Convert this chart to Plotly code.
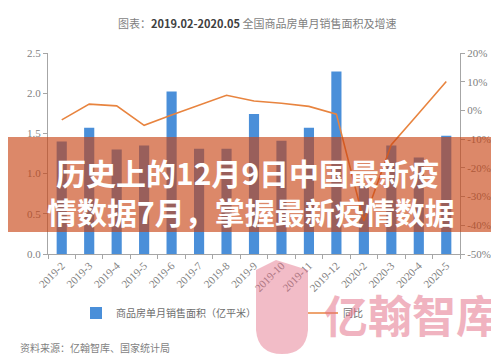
import plotly.graph_objects as go

categories = ["2019-2", "2019-3", "2019-4", "2019-5", "2019-6", "2019-7", "2019-8",
              "2019-9", "2019-10", "2019-11", "2019-12", "2020-2", "2020-3", "2020-4", "2020-5"]
sales_area = [1.40, 1.57, 1.30, 1.35, 2.02, 1.31, 1.31, 1.74, 1.41, 1.57, 2.27, 0.85, 1.35, 1.20, 1.47]
yoy_pct = [-3.3, 2.2, 1.6, -5.2, -1.6, 1.8, 5.3, 3.3, 2.5, 1.4, -1.3, -38.5, -11.9, -1.0, 10.1]

left_ticks = [0.0, 0.5, 1.0, 1.5, 2.0, 2.5]
left_labels = ["0.0", "0.5", "1.0", "1.5", "2.0", "2.5"]
right_ticks = [-50, -40, -30, -20, -10, 0, 10, 20]
right_labels = ["-50%", "-40%", "-30%", "-20%", "-10%", "0%", "10%", "20%"]

bar_name = "商品房单月销售面积（亿平米）"
line_name = "同比"
title_html = ("<span style='color:#7f7f7f'>图表：</span><b>2019.02-2020.05</b>"
              "<span style='color:#7f7f7f'> 全国商品房单月销售面积及增速</span>")
banner_line1 = "历史上的12月9日中国最新疫"
banner_line2 = "情数据7月，掌握最新疫情数据"
source_text = "资料来源：亿翰智库、国家统计局"
watermark_text = "亿翰智库"

CJK = "Noto Sans CJK SC"
SERIF = "Liberation Serif"

W, H = 499, 355
L, R, T, B = 40, 47, 45, 109
pw, ph = W - L - R, H - T - B

def px_x(x):
    return (x - L) / pw

def px_y(y):
    return (H - B - y) / ph

fig = go.Figure()
fig.add_trace(go.Bar(x=categories, y=sales_area, name=bar_name, legend="legend",
                     marker=dict(color="#4a8fd9", line=dict(width=0)), yaxis="y"))
fig.add_trace(go.Scatter(x=categories, y=yoy_pct, name=line_name, mode="lines", legend="legend2",
                         line=dict(color="#e8843f", width=1.6), yaxis="y2"))

legend_font = dict(family=CJK, size=10, color="#6e6e6e")
fig.update_layout(
    width=W, height=H,
    margin=dict(l=L, r=R, t=T, b=B),
    paper_bgcolor="white", plot_bgcolor="white",
    bargap=0.63,
    showlegend=True,
    legend=dict(orientation="h", x=px_x(68), xanchor="left", y=px_y(305), yanchor="middle",
                font=legend_font, bgcolor="rgba(0,0,0,0)", itemwidth=30),
    legend2=dict(orientation="h", x=px_x(295), xanchor="left", y=px_y(305), yanchor="middle",
                 font=legend_font, bgcolor="rgba(0,0,0,0)", itemwidth=30),
    xaxis=dict(type="category", showline=True, linecolor="#a6a6a6", linewidth=1,
               ticks="outside", ticklen=4, tickcolor="#a6a6a6", tickson="boundaries",
               tickangle=-45, tickfont=dict(family=SERIF, size=11, color="#7f7f7f"),
               showgrid=False, zeroline=False),
    yaxis=dict(range=[0, 2.5], tickvals=left_ticks, ticktext=left_labels,
               showline=True, linecolor="#a6a6a6", linewidth=1, ticks="outside",
               ticklen=4, tickcolor="#a6a6a6", showgrid=False, zeroline=False,
               tickfont=dict(family=SERIF, size=11, color="#7f7f7f")),
    yaxis2=dict(range=[-50, 20], tickvals=right_ticks, ticktext=right_labels,
                overlaying="y", side="right", showline=True, linecolor="#a6a6a6",
                linewidth=1, ticks="outside", ticklen=4, tickcolor="#a6a6a6",
                showgrid=False, zeroline=False,
                tickfont=dict(family=SERIF, size=11, color="#7f7f7f")),
)

annotations = [
    dict(text=title_html, x=px_x(249), y=px_y(15), xref="paper", yref="paper",
         showarrow=False, xanchor="center", yanchor="middle",
         font=dict(family=CJK, size=11, color="#404040")),
    dict(text=source_text, x=px_x(10), y=px_y(339), xref="paper", yref="paper",
         showarrow=False, xanchor="left", yanchor="middle",
         font=dict(family=CJK, size=10, color="#7f7f7f")),
    dict(text=watermark_text, x=px_x(494), y=px_y(306), xref="paper", yref="paper",
         showarrow=False, xanchor="right", yanchor="middle", opacity=0.5,
         font=dict(family=CJK, size=44, color="#e36a82", weight="bold")),
    dict(text=banner_line1, x=px_x(46), y=px_y(164), xref="paper", yref="paper",
         showarrow=False, xanchor="left", yanchor="middle",
         font=dict(family=CJK, size=30, color="white", weight="bold")),
    dict(text=banner_line2, x=px_x(37), y=px_y(203), xref="paper", yref="paper",
         showarrow=False, xanchor="left", yanchor="middle",
         font=dict(family=CJK, size=30, color="white", weight="bold")),
]

shapes = [
    dict(type="rect", xref="paper", yref="paper", x0=px_x(0), x1=px_x(W),
         y0=px_y(224), y1=px_y(129), fillcolor="rgba(200,66,18,0.63)",
         line=dict(width=0), layer="above"),
    dict(type="path", xref="paper", yref="paper",
         path=(f"M {px_x(248)},{px_y(262)} L {px_x(268)},{px_y(252)} L {px_x(300)},{px_y(262)} "
               f"L {px_x(300)},{px_y(322)} Q {px_x(298)},{px_y(346)} {px_x(274)},{px_y(346)} "
               f"Q {px_x(250)},{px_y(346)} {px_x(248)},{px_y(322)} Z"),
         fillcolor="rgba(227,106,130,0.45)", line=dict(width=0), layer="above"),
]

fig.update_layout(annotations=annotations, shapes=shapes)
fig.write_html("out.html")
